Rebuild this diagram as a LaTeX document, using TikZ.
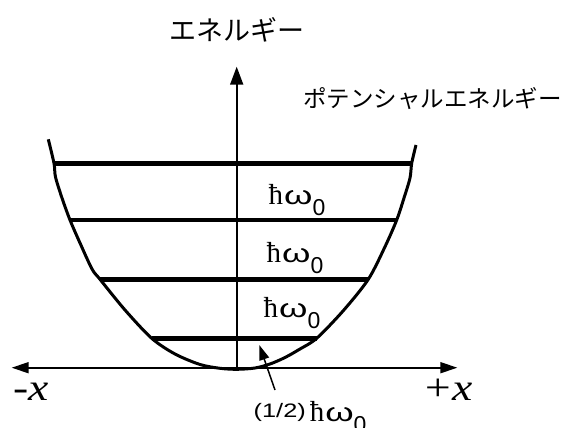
\documentclass[tikz,border=0pt]{standalone}
\usepackage{fontspec}
\setmainfont{Liberation Sans}
\newfontfamily\jpfont{Noto Sans CJK JP}
\newfontfamily\hbarfont{Liberation Serif}
\newfontfamily\omegafont[FakeStretch=1.4]{Liberation Sans}
\newfontfamily\halffont[FakeStretch=1.3]{Liberation Sans}
\newfontfamily\xfont[FakeStretch=1.2]{Liberation Serif}
\usetikzlibrary{arrows.meta}
\newcommand{\hwz}{{\hbarfont\fontsize{29}{29}\selectfont ħ}\hspace{1pt}{\omegafont\fontsize{26}{26}\selectfont ω}\raisebox{-11pt}{\fontsize{23}{23}\selectfont 0}}
\tikzset{
  curveline/.style={line width=3pt, line join=round},
  levelline/.style={line width=4.7pt},
  axisline/.style={line width=1.8pt},
  quantlab/.style={anchor=base west, inner sep=0pt},
  jplab/.style={inner sep=0pt, font=\jpfont},
  xlab/.style={anchor=base west, inner sep=0pt, font=\xfont\itshape\fontsize{38}{38}\selectfont},
}
\begin{document}
\begin{tikzpicture}[x=1pt,y=-1pt]
\useasboundingbox (0,0) rectangle (563,428);
% energy levels
\draw[levelline] (54,163.3) -- (411.7,163.3);
\draw[levelline] (70,220) -- (396.7,220);
\draw[levelline] (100,279.3) -- (368.3,279.3);
\draw[levelline] (151.7,338.3) -- (316.7,338.3);
% axes
\draw[axisline, {Triangle[length=17pt,width=11pt]}-{Triangle[length=17pt,width=11pt]}] (11.7,367.7) -- (457.3,367.7);
\draw[axisline, -{Triangle[length=18pt,width=13pt]}] (236.7,367.7) -- (236.7,66.7);
% potential curve
\draw[curveline] plot[smooth, tension=0.5] coordinates {(48.3,139.3) (54,163.3) (55.5,177) (62,198) (70,220) (80,243) (92,269) (100,279.3) (125,310) (151.7,338.3) (175,354) (200,364.5) (220,368.3) (237,369.3) (255,368) (270,364) (285,357.5) (300,349) (316.7,338.3) (343,311) (368.3,279.3) (385,246.7) (396.7,220) (404,198) (410,178) (411.7,163.3) (416,145)};
% labels
\node[jplab, anchor=base] (energy) at (236.7,40.5) {\fontsize{27}{27}\selectfont エネルギー};
\node[jplab, anchor=base west] (potential) at (303,107) {\fontsize{23.5}{23.5}\selectfont ポテンシャルエネルギー};
\node[quantlab] (q1) at (268.5,204.5) {\hwz};
\node[quantlab] (q2) at (266.5,262) {\hwz};
\node[quantlab] (q3) at (263.5,317.5) {\hwz};
\node[quantlab] (q0) at (253.5,421) {\raisebox{3.5pt}{\halffont\fontsize{19.5}{19.5}\selectfont (1/2)}\hspace{4pt}\hwz};
\node[xlab] (mx) at (13.5,400) {-x};
\node[xlab] (px) at (422,400) {+x};
% pointer to ground level
\coordinate (ptstart) at (275,390);
\coordinate (pttip) at (259.3,345);
\draw[line width=1.5pt, -{Triangle[length=15pt,width=10pt]}] (ptstart) -- (pttip);
\end{tikzpicture}
\end{document}
